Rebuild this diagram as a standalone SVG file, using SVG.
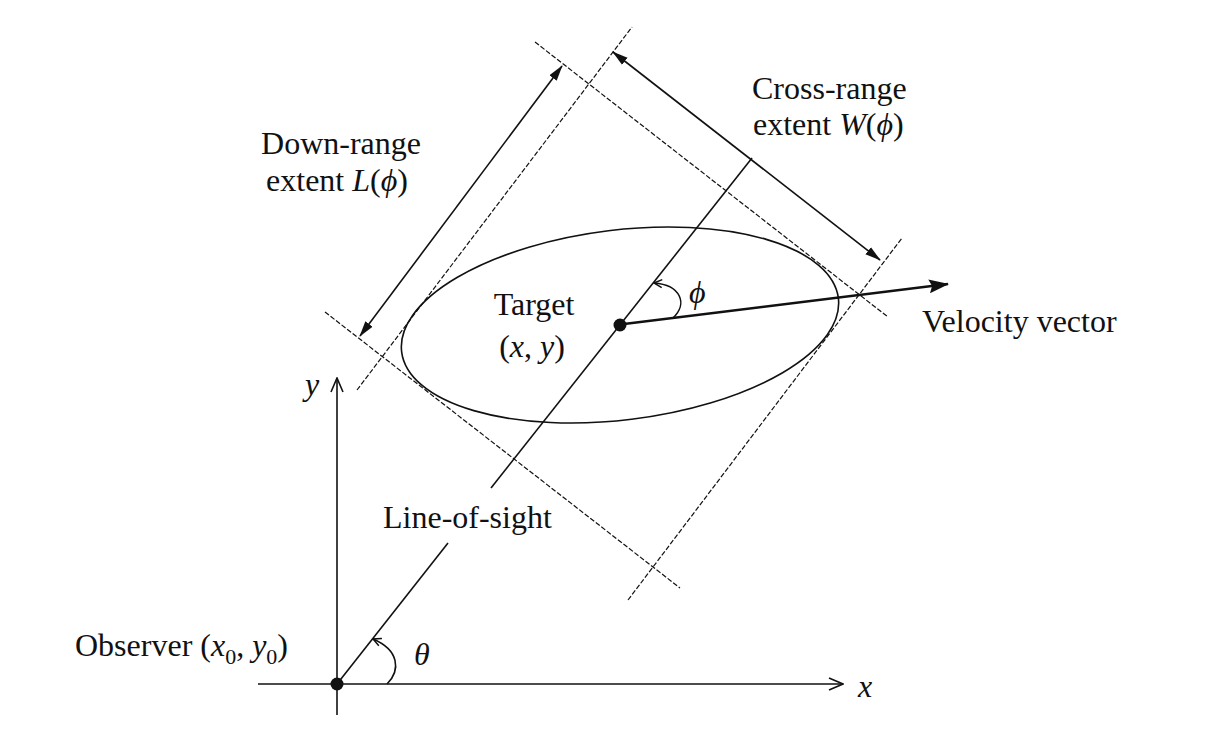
<svg xmlns="http://www.w3.org/2000/svg" width="1208" height="729" viewBox="0 0 1208 729">
<defs>
<style>
.t{font-family:"Liberation Serif","Times New Roman",serif;font-size:32px;fill:#111}
.i{font-style:italic}
.sub{font-size:22px}
.ln{stroke:#111;stroke-width:1.6;fill:none}
.dash{stroke:#111;stroke-width:1.2;stroke-dasharray:5 2;fill:none}
</style>
<marker id="fa" viewBox="0 0 16 10" refX="15" refY="5" markerWidth="16" markerHeight="10" markerUnits="userSpaceOnUse" orient="auto-start-reverse"><path d="M0,0.5 L16,5 L0,9.5 Z" fill="#111"/></marker>
<marker id="va" viewBox="0 0 20 14" refX="19" refY="7" markerWidth="20" markerHeight="14" markerUnits="userSpaceOnUse" orient="auto"><path d="M0,0 L20,7 L0,14 L3,7 Z" fill="#111"/></marker>
<marker id="oa" viewBox="0 0 16 14" refX="15" refY="7" markerWidth="16" markerHeight="14" markerUnits="userSpaceOnUse" orient="auto"><path d="M1,1 L15,7 L1,13" fill="none" stroke="#111" stroke-width="1.6"/></marker>
<marker id="sa" viewBox="0 0 10 10" refX="9" refY="5" markerWidth="10" markerHeight="10" markerUnits="userSpaceOnUse" orient="auto"><path d="M1,1 L9,5 L1,9" fill="none" stroke="#111" stroke-width="1.5"/></marker>
</defs>
<rect width="1208" height="729" fill="#fff"/>

<g id="connectors">
  <!-- axes -->
  <line class="ln" x1="258" y1="684" x2="843" y2="684" marker-end="url(#oa)"/>
  <line class="ln" x1="337" y1="715" x2="337" y2="378" marker-end="url(#oa)"/>
  <!-- line of sight -->
  <line class="ln" x1="337" y1="684" x2="448" y2="543"/>
  <line class="ln" x1="491" y1="488" x2="752" y2="158"/>
  <!-- bounding lines -->
  <line class="dash" x1="535" y1="42" x2="888" y2="317"/>
  <line class="dash" x1="325" y1="312" x2="680" y2="588"/>
  <line class="dash" x1="357" y1="390" x2="632" y2="27"/>
  <line class="dash" x1="628" y1="600" x2="902" y2="238"/>
  <!-- extent arrows -->
  <line class="ln" x1="360" y1="336" x2="562" y2="66" marker-start="url(#fa)" marker-end="url(#fa)"/>
  <line class="ln" x1="613" y1="52" x2="880" y2="260" marker-start="url(#fa)" marker-end="url(#fa)"/>
  <!-- velocity -->
  <line x1="624" y1="324" x2="948" y2="284" stroke="#111" stroke-width="2.6" marker-end="url(#va)"/>
  <!-- angle arcs -->
  <path class="ln" d="M673,318 C688,304 681,285 654,283" marker-end="url(#sa)"/>
  <path class="ln" d="M387,684 C401,670 399,650 373,639" marker-end="url(#sa)"/>
</g>

<g id="target-ellipse">
  <ellipse cx="620" cy="325" rx="220" ry="95" transform="rotate(-7 620 325)" fill="none" stroke="#111" stroke-width="1.6"/>
</g>

<g id="target">
  <circle cx="620" cy="325" r="6.5" fill="#111"/>
  <text class="t" x="534" y="315" text-anchor="middle">Target</text>
  <text class="t" x="532" y="357" text-anchor="middle">(<tspan class="i">x</tspan>, <tspan class="i">y</tspan>)</text>
</g>

<g id="observer">
  <circle cx="337" cy="684" r="6.5" fill="#111"/>
  <text class="t" x="288" y="656" text-anchor="end">Observer (<tspan class="i">x</tspan><tspan class="sub" dy="8">0</tspan><tspan dy="-8">, </tspan><tspan class="i">y</tspan><tspan class="sub" dy="8">0</tspan><tspan dy="-8">)</tspan></text>
</g>

<g id="labels">
  <text class="t" x="341" y="154" text-anchor="middle">Down-range</text>
  <text class="t" x="337" y="191" text-anchor="middle">extent <tspan class="i">L</tspan>(<tspan class="i">ϕ</tspan>)</text>
  <text class="t" x="752" y="99">Cross-range</text>
  <text class="t" x="753" y="135">extent <tspan class="i">W</tspan>(<tspan class="i">ϕ</tspan>)</text>
  <text class="t" x="383" y="528">Line-of-sight</text>
  <text class="t" x="922" y="332">Velocity vector</text>
  <text class="t i" x="305" y="395">y</text>
  <text class="t i" x="858" y="697">x</text>
  <text class="t i" x="689" y="303">ϕ</text>
  <text class="t i" x="414" y="665">θ</text>
</g>
</svg>
